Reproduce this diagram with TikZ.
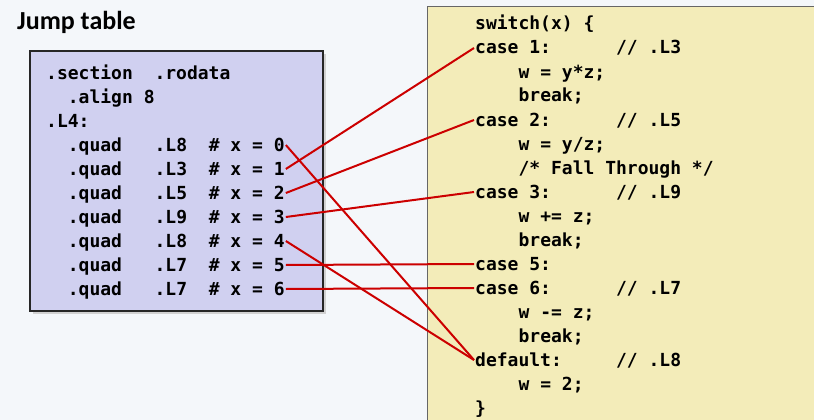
\documentclass[tikz,border=0pt]{standalone}
\usepackage{fontspec}
\setmainfont{Carlito}
\setmonofont{DejaVu Sans Mono}
\definecolor{tablefill}{RGB}{208,208,240}
\definecolor{codefill}{RGB}{243,236,185}
\definecolor{slidebg}{RGB}{244,247,250}
\definecolor{jumpred}{RGB}{204,0,0}

\begin{document}
\begin{tikzpicture}[x=1pt,y=-1pt,
  code/.style={anchor=base west,inner xsep=1pt,inner ysep=0pt,text height=12pt,text depth=0pt,
    font=\ttfamily\bfseries\fontsize{18}{18}\selectfont},
  jump/.style={draw=jumpred,line width=2pt}]

  \clip (0,0) rectangle (814,420);
  \fill[slidebg] (0,0) rectangle (814,420);

  \node[anchor=base west,inner sep=0pt,font=\bfseries\fontsize{26}{26}\selectfont] (title) at (17,30) {Jump table};

  % jump table box
  \fill[black!18] (33,54) rectangle (326,314);
  \filldraw[fill=tablefill,draw=black!85,line width=1.2pt] (30,51) rectangle (323,311);
  \node[code] (sec) at (45,79) {.section~~.rodata};
  \node[code] (algn) at (66.7,103) {.align~8};
  \node[code] (lfour) at (45,127) {.L4:};
  \node[code] (q0) at (66.7,151) {.quad~~~.L8~~\#~x~=~0};
  \node[code] (q1) at (66.7,175) {.quad~~~.L3~~\#~x~=~1};
  \node[code] (q2) at (66.7,199) {.quad~~~.L5~~\#~x~=~2};
  \node[code] (q3) at (66.7,223) {.quad~~~.L9~~\#~x~=~3};
  \node[code] (q4) at (66.7,247) {.quad~~~.L8~~\#~x~=~4};
  \node[code] (q5) at (66.7,271) {.quad~~~.L7~~\#~x~=~5};
  \node[code] (q6) at (66.7,295) {.quad~~~.L7~~\#~x~=~6};

  % switch box
  \filldraw[fill=codefill,draw=black!60,line width=1pt] (427,7) rectangle (840,440);
  \node[code] (sw) at (474,30) {switch(x)~\{};
  \node[code] (c1) at (474,54) {case~1:~~~~~~//~.L3};
  \node[code] at (517.4,78) {w~=~y*z;};
  \node[code] at (517.4,102) {break;};
  \node[code] (c2) at (474,126) {case~2:~~~~~~//~.L5};
  \node[code] at (517.4,150) {w~=~y/z;};
  \node[code] at (517.4,174) {/*~Fall~Through~*/};
  \node[code] (c3) at (474,198) {case~3:~~~~~~//~.L9};
  \node[code] at (517.4,222) {w~+=~z;};
  \node[code] at (517.4,246) {break;};
  \node[code] (c5) at (474,270) {case~5:};
  \node[code] (c6) at (474,294) {case~6:~~~~~~//~.L7};
  \node[code] at (517.4,318) {w~-=~z;};
  \node[code] at (517.4,342) {break;};
  \node[code] (dflt) at (474,366) {default:~~~~~//~.L8};
  \node[code] at (517.4,390) {w~=~2;};
  \node[code] (close) at (474,414) {\}};

  \path[jump]
  (q0.east) edge (dflt.west)
  (q1.east) edge (c1.west)
  (q2.east) edge (c2.west)
  (q3.east) edge (c3.west)
  (q4.east) edge (dflt.west)
  (q5.east) edge (c5.west)
  (q6.east) edge (c6.west);

\end{tikzpicture}
\end{document}
